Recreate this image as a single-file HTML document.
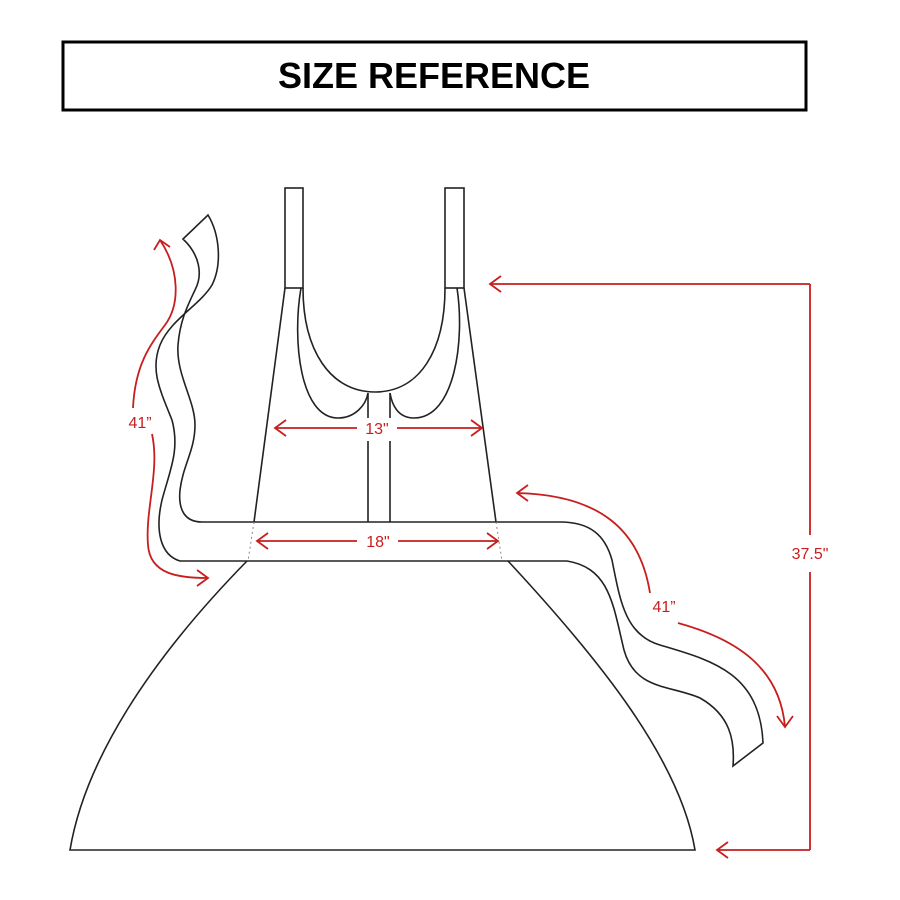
<!DOCTYPE html>
<html><head><meta charset="utf-8"><style>
html,body{margin:0;padding:0;background:#fff}
svg{display:block}
</style></head><body>
<svg width="900" height="900" viewBox="0 0 900 900" xmlns="http://www.w3.org/2000/svg">
<rect x="63" y="42" width="743" height="68" fill="none" stroke="#000" stroke-width="3"/>
<text x="434" y="88" text-anchor="middle" font-family="Liberation Sans, sans-serif" font-weight="bold" font-size="36">SIZE REFERENCE</text>
<g fill="none" stroke="#222" stroke-width="1.6">
<rect x="285" y="188" width="18" height="100"/>
<rect x="445" y="188" width="19" height="100"/>
<path d="M285,288 L254,522"/>
<path d="M464,288 L496,522"/>
<path d="M303,288 C303,350 330,392 375,392 C420,392 445,350 445,288"/>
<path d="M301,288 C292,340 300,418 338,418 C355,418 366,405 368,393"/>
<path d="M457,288 C465,340 455,418 414,418 C398,418 392,405 390,393"/>
<path d="M368,393 L368,418 M368,441 L368,522 M390,393 L390,418 M390,441 L390,522"/>
<path d="M202,522 L560,522 C590,522 605,535 612,560 C620,600 625,635 660,645 C710,660 760,672 763,743 L733,766 C735,740 730,715 700,698 C670,685 635,690 624,650 C613,605 610,568 567,561 L180,561 C160,555 155,530 162,500 C170,470 180,450 172,420 C160,390 150,370 160,345 C170,320 200,305 212,285 C222,265 220,235 208,215 L183,239 C200,255 203,275 195,290 C188,305 180,320 178,345 C176,375 195,400 195,425 C195,450 183,465 180,490 C178,510 185,522 202,522"/>
<path d="M247,561 C150,660 85,760 70,850 L695,850 C680,760 600,660 508,561"/>
</g>
<path d="M254,522 L248,561 M496,522 L502,561" stroke="#888" stroke-width="1" stroke-dasharray="2,3"/>
<g fill="none" stroke="#c81e1e" stroke-width="1.8">
<path d="M275,428 L357,428 M397,428 L482,428 M286,420 L275,428 L286,436 M471,420 L482,428 L471,436"/>
<path d="M257,541 L357,541 M398,541 L498,541 M268,533 L257,541 L268,549 M487,533 L498,541 L487,549"/>
<path d="M810,284 L810,535 M810,572 L810,850 M810,284 L490,284 M501,276 L490,284 L501,292 M810,850 L717,850 M728,842 L717,850 L728,858"/>
<path d="M160,240 C180,270 180,305 165,325 C150,345 135,365 133,408"/>
<path d="M152,434 C160,470 145,510 148,545 C150,575 180,578 208,578 M197,570 L208,578 L197,586"/>
<path d="M154,250 L160,240 L170,247"/>
<path d="M517,493 C600,495 640,530 650,593 M528,485 L517,493 L528,501"/>
<path d="M678,623 C740,640 780,670 785,727 M777,716 L785,727 L793,716"/>
</g>
<g fill="#c81e1e" font-family="Liberation Sans, sans-serif" font-size="16">
<text x="377" y="434" text-anchor="middle">13"</text>
<text x="378" y="547" text-anchor="middle">18"</text>
<text x="810" y="559" text-anchor="middle">37.5"</text>
<text x="140" y="428" text-anchor="middle">41”</text>
<text x="664" y="612" text-anchor="middle">41”</text>
</g>
</svg>
</body></html>
